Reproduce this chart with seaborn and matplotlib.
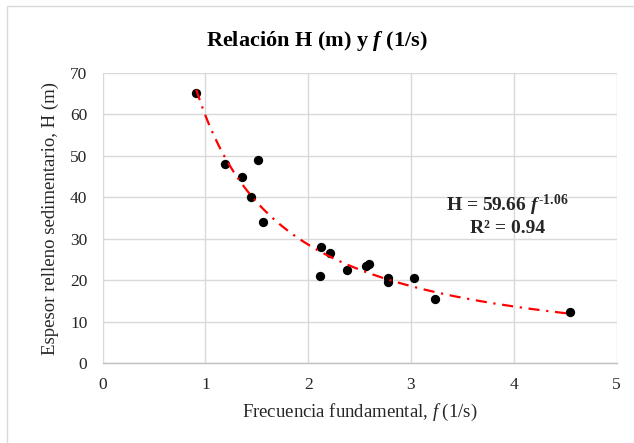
import numpy as np
import pandas as pd
import matplotlib
matplotlib.use("Agg")
import matplotlib.pyplot as plt
from matplotlib.patches import Rectangle
import seaborn as sns

# data
frecuencia = [0.91, 1.19, 1.355, 1.51, 1.44, 1.56, 2.12, 2.21, 2.11, 2.38,
              2.56, 2.59, 2.78, 2.78, 3.03, 3.23, 4.55]
espesor = [65.0, 48.0, 45.0, 49.0, 40.0, 34.0, 28.0, 26.5, 21.0, 22.5,
           23.5, 24.0, 20.5, 19.5, 20.5, 15.5, 12.5]

# power trend line coefficients shown on the chart
coef_a = 59.66
coef_b = -1.06
r2 = 0.94

df = pd.DataFrame({"f": frecuencia, "H": espesor})

sns.set_style("white")
plt.rcParams["font.family"] = ["Liberation Serif", "DejaVu Serif"]
plt.rcParams["mathtext.fontset"] = "custom"
plt.rcParams["mathtext.rm"] = "Liberation Serif"
plt.rcParams["mathtext.it"] = "Liberation Serif:italic"
plt.rcParams["mathtext.bf"] = "Liberation Serif:bold"
plt.rcParams["mathtext.bfit"] = "Liberation Serif:bold:italic"

fig = plt.figure(figsize=(6.34, 4.43), dpi=100)
ax = fig.add_axes([0.162, 0.1795, 0.8104, 0.6564])

# outer chart border
fig.patches.append(Rectangle((0.011, -0.05), 1.2, 1.0365, transform=fig.transFigure,
                             fill=False, edgecolor="#d9d9d9", linewidth=1.0))

sns.scatterplot(data=df, x="f", y="H", ax=ax, color="black", s=45,
                edgecolor="black", linewidth=0, zorder=3)

xs = np.linspace(min(frecuencia), max(frecuencia), 200)
ax.plot(xs, coef_a * xs ** coef_b, color="#ff0000", linewidth=1.6,
        linestyle=(0, (5, 3, 1, 3)), zorder=4)

ax.set_xlim(0, 5)
ax.set_ylim(0, 70)
ax.set_xticks(range(0, 6))
ax.set_yticks(range(0, 71, 10))
ax.grid(True, color="#d9d9d9", linewidth=1.0)
ax.set_axisbelow(True)
for side in ["top", "right", "left"]:
    ax.spines[side].set_visible(False)
ax.spines["bottom"].set_color("#bfbfbf")
ax.spines["bottom"].set_linewidth(1.0)
ax.tick_params(axis="both", length=0, labelsize=12.5, colors="#262626", pad=10)
ax.tick_params(axis="y", pad=11)

ax.set_xlabel("Frecuencia fundamental, $f$ (1/s)", fontsize=13.5, color="#262626", labelpad=6)
ax.set_ylabel("Espesor relleno sedimentario, H (m)", fontsize=13.5, color="#262626", labelpad=8)
fig.text(0.5, 0.907, r"Relación H (m) y $\mathbfit{f}$ (1/s)", ha="center", va="center",
         fontsize=16, fontweight="bold", color="black")

exp_txt = ("%.2f" % coef_b).replace("-", "\u2010")
ax.text(3.94, 38.0, r"H = %.2f $\mathbfit{f}^{\,\mathbf{%s}}$" % (coef_a, exp_txt),
        ha="center", va="center", fontsize=14, fontweight="bold")
ax.text(3.94, 32.6, "R² = %.2f" % r2, ha="center", va="center", fontsize=14,
        fontweight="bold")

fig.savefig("out.png", dpi=100)
